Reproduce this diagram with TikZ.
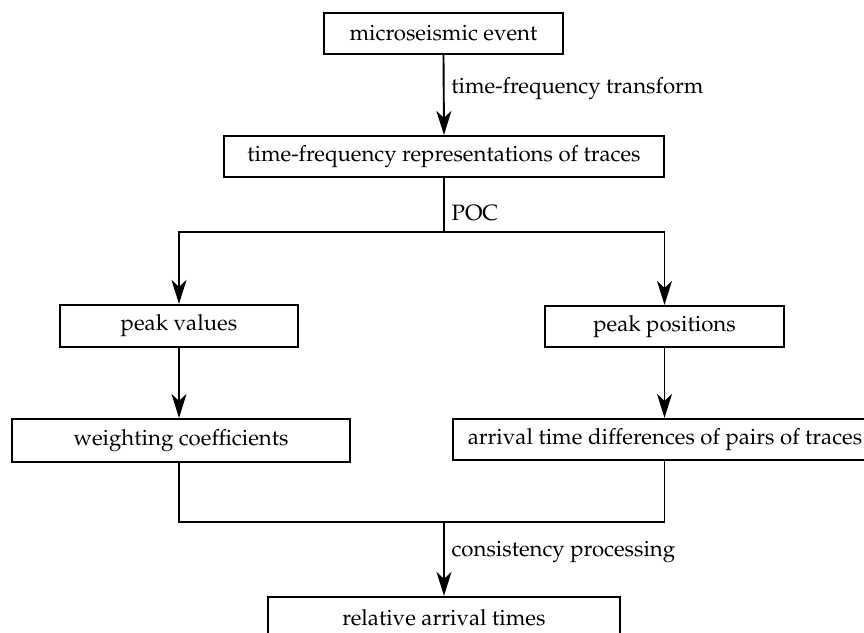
\documentclass[tikz,border=0pt]{standalone}
\usepackage[T1]{fontenc}
\renewcommand{\rmdefault}{ppl}
\usetikzlibrary{arrows.meta}
\tikzset{
  stepbox/.style={draw,line width=1.1pt,inner sep=0pt,font=\fontsize{11.1}{13}\selectfont},
  lab/.style={right,font=\fontsize{11.1}{13}\selectfont}
}
\begin{document}
\begin{tikzpicture}[x=0.5pt,y=-0.5pt,line width=0.95pt,>={Stealth[length=12pt,width=7.5pt,inset=3.5pt]}]
		\clip (0,0) rectangle (864,633);
		% boxes
		\node[stepbox,minimum width=119.5pt,minimum height=20.5pt] (event) at (443.5,33.5) {microseismic event};
		\node[stepbox,minimum width=220pt,minimum height=20.5pt] (tfr) at (444,156.5) {time-frequency representations of traces};
		\node[stepbox,minimum width=119pt,minimum height=21pt] (pval) at (179,326) {peak values};
		\node[stepbox,minimum width=119.5pt,minimum height=20.5pt] (ppos) at (664.5,326.5) {peak positions};
		\node[stepbox,minimum width=169pt,minimum height=21.5pt] (weight) at (181,440.5) {weighting coefficients};
		\node[stepbox,minimum width=212pt,minimum height=20.5pt] (diff) at (665,439.5) {arrival time differences of pairs of traces};
		\node[stepbox,minimum width=176pt,minimum height=20.5pt] (rel) at (444,617.5) {relative arrival times};
		\coordinate (split) at (444,232);
		\coordinate (join) at (444,522);
		% connectors
		\draw[->] (event.south) -- node[lab,pos=0.42] {time-frequency transform} (tfr.north);
		\draw (tfr.south) -- node[lab,pos=0.64] {POC} (split);
		\draw[->] (split) -| (pval.north);
		\draw[->] (split) -| (ppos.north);
		\draw[->] (pval.south) -- (pval.south |- weight.north);
		\draw[->] (ppos.south) -- (ppos.south |- diff.north);
		\draw (pval.south |- weight.south) |- (join);
		\draw (ppos.south |- diff.south) |- (join);
		\draw[->] (join) -- node[lab,pos=0.41] {consistency processing} (rel.north);
\end{tikzpicture}
\end{document}
